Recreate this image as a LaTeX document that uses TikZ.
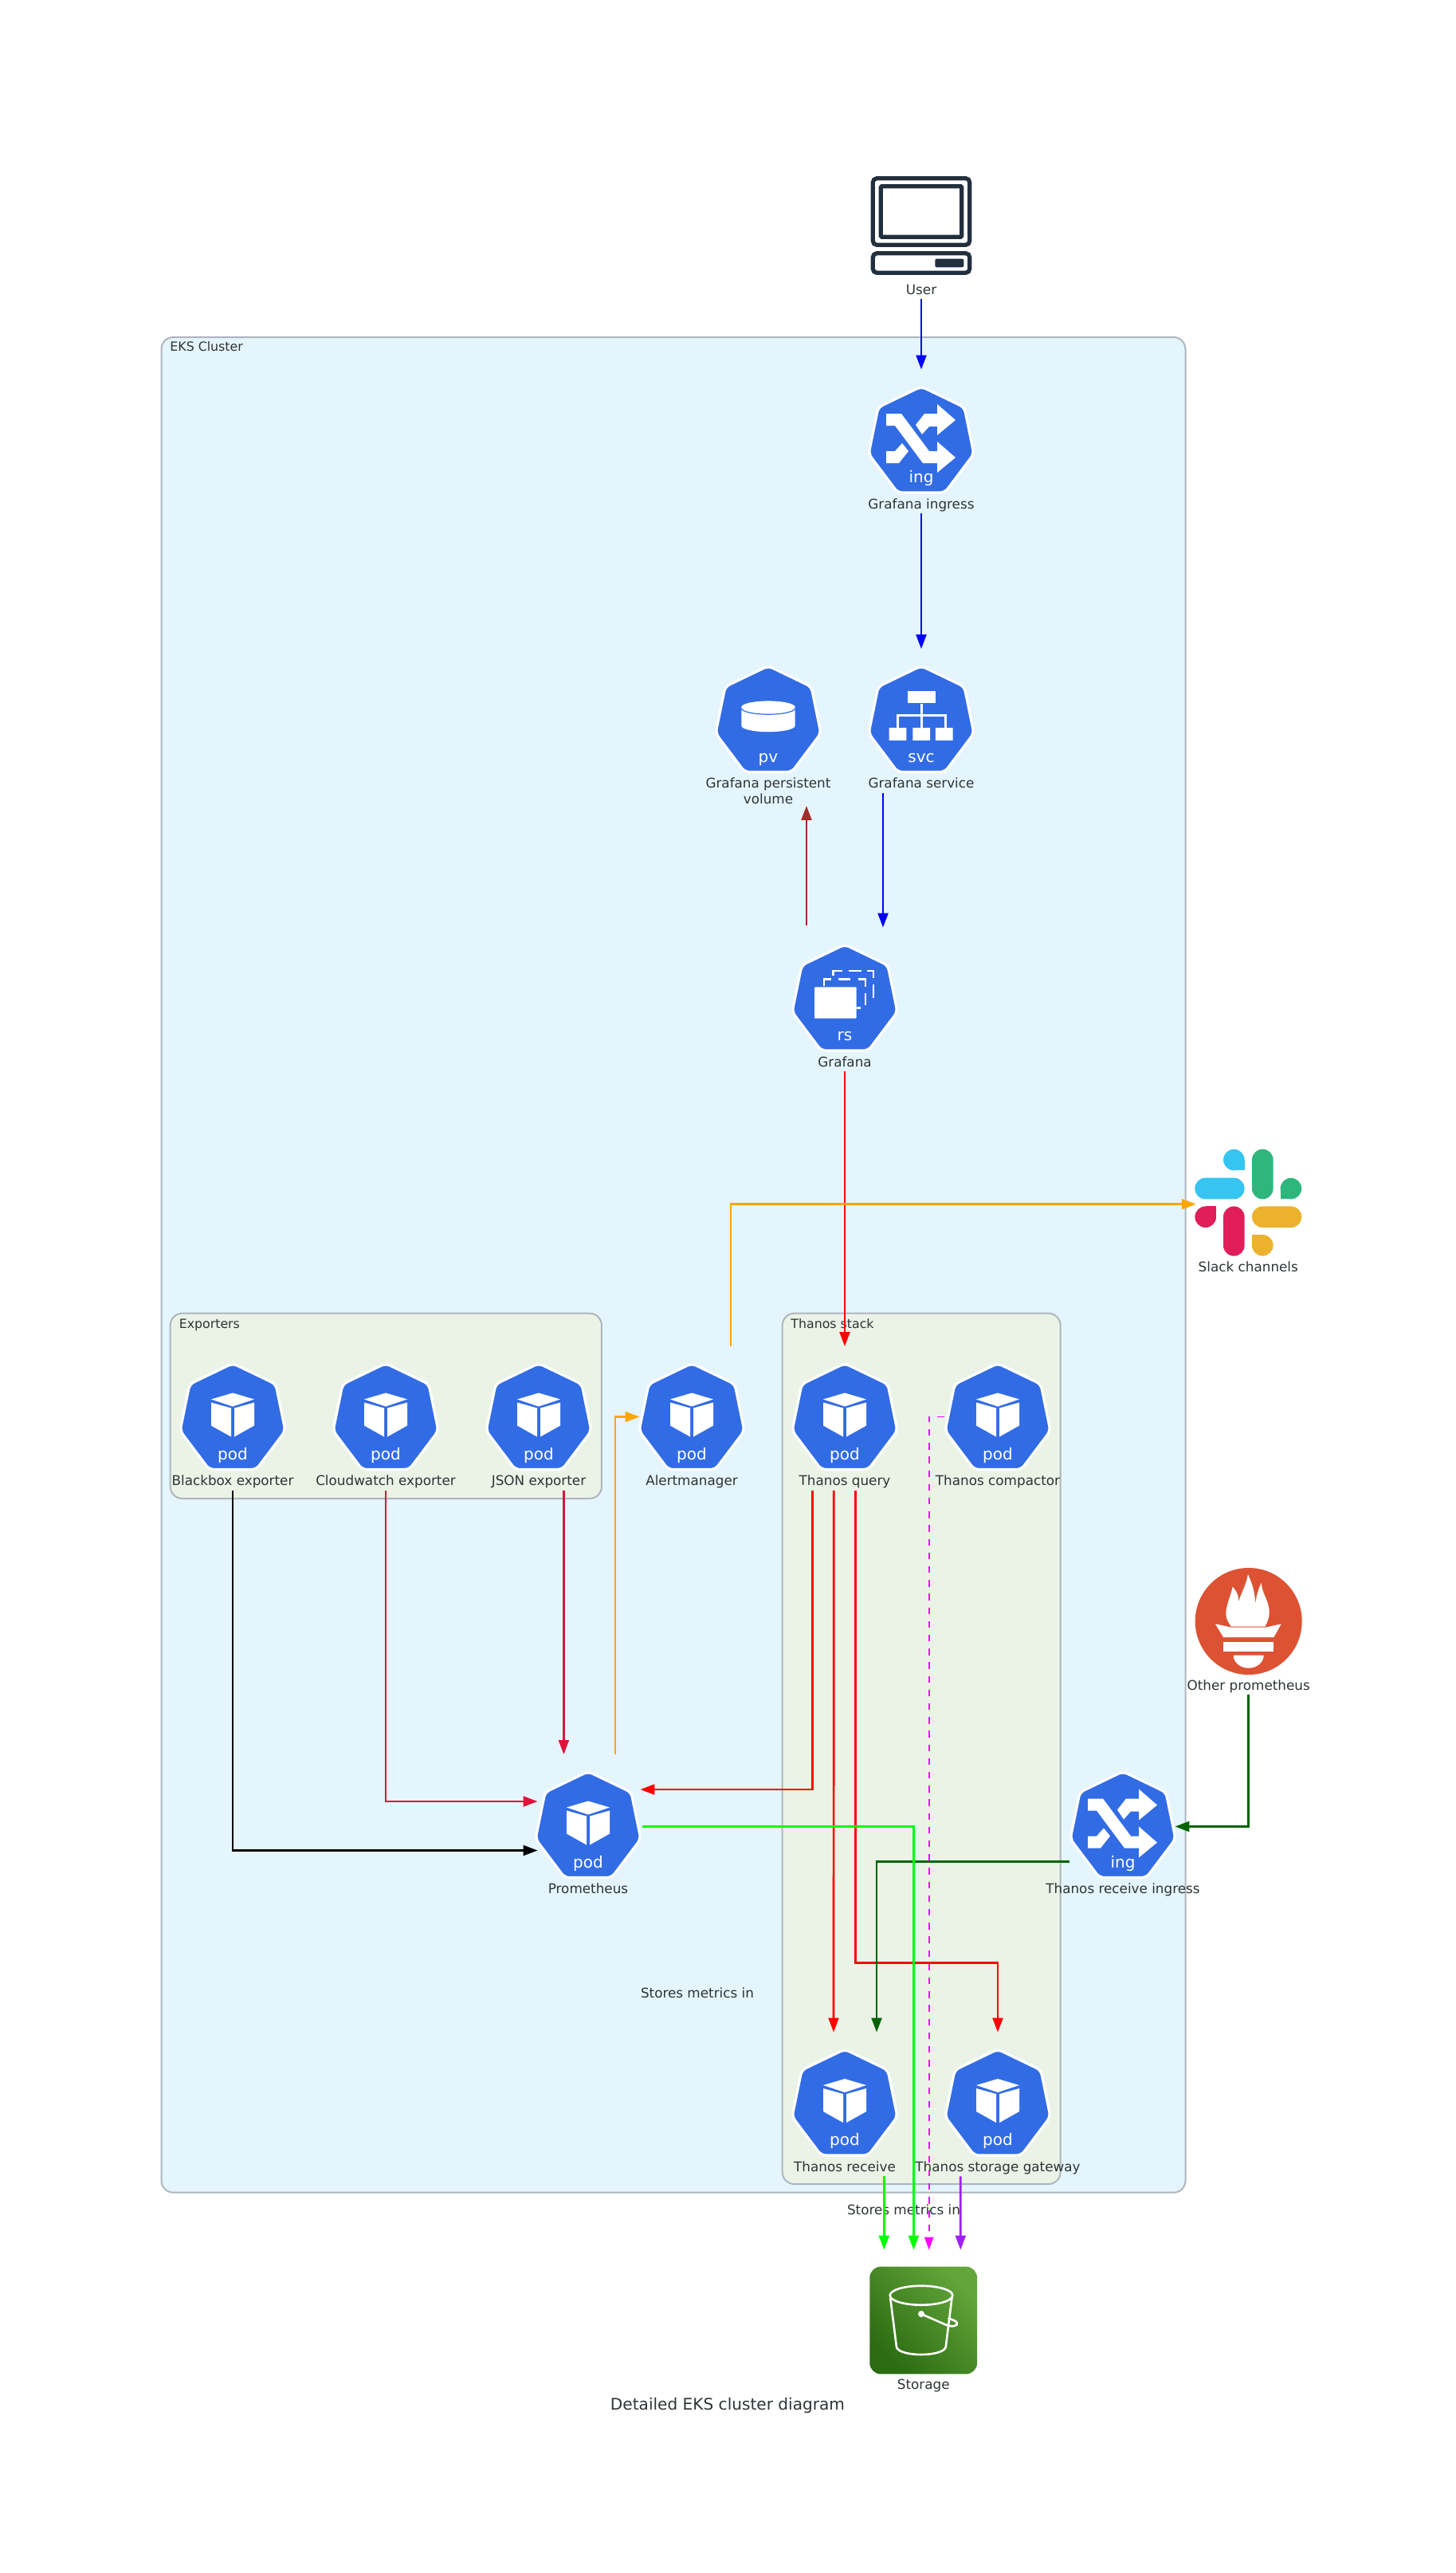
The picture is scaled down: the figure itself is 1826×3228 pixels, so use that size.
\documentclass[tikz,border=0pt]{standalone}
\usepackage{fontspec}
\setmainfont{DejaVu Sans}
\usetikzlibrary{calc,arrows.meta}
\definecolor{ekscol}{HTML}{E5F5FD}
\definecolor{stackcol}{HTML}{EBF3E7}
\definecolor{pencol}{HTML}{AEB6BE}
\definecolor{inkcol}{HTML}{2D3436}
\definecolor{kubeblue}{HTML}{326CE5}
\definecolor{usercol}{HTML}{232F3E}
\definecolor{promcol}{HTML}{DC5233}
\definecolor{slackblue}{HTML}{36C5F0}
\definecolor{slackgreen}{HTML}{2EB67D}
\definecolor{slackred}{HTML}{E01E5A}
\definecolor{slackyellow}{HTML}{ECB22E}
\definecolor{bluecol}{HTML}{0000FF}
\definecolor{redcol}{HTML}{FF0000}
\definecolor{crimsoncol}{HTML}{DC143C}
\definecolor{browncol}{HTML}{A52A2A}
\definecolor{orangecol}{HTML}{FFA500}
\definecolor{limecol}{HTML}{00FF00}
\definecolor{darkgreencol}{HTML}{006400}
\definecolor{purplecol}{HTML}{A020F0}
\definecolor{magentacol}{HTML}{FF00FF}
\definecolor{bucketlow}{HTML}{2B6B12}
\definecolor{buckethigh}{HTML}{62A539}
\newcommand{\placed}[5][0]{%
\node[iconbox] (#2) at (#3,{#4+2}) {};
\node[caption] (#2-label) at ($(#2.south)+(0,{#1-6})$) {#5};}
\newcommand{\hexbody}[1]{%
\filldraw[fill=kubeblue,draw=white,line width=1.6pt,rounded corners=3pt]
(0,-67)--(54,-41)--(66,17.5)--(29.5,66)--(-29.5,66)--(-66,17.5)--(-54,-41)--cycle;
\node[kubeword] (word) at (0,53.5) {#1};}
\tikzset{
flow/.style={-{Triangle[length=9pt,width=6.4pt]},line width=1.35pt},
dashflow/.style={-{Triangle[length=8pt,width=5.6pt]},line width=.8pt,dash pattern=on 4.2pt off 4.4pt,magentacol},
iconbox/.style={minimum width=65pt,minimum height=90pt,inner sep=0pt},
caption/.style={anchor=base,inner sep=0pt,align=center,text=inkcol,font=\fontsize{8.4}{9.75}\selectfont},
clusterbox/.style={draw=pencol,line width=1pt,rounded corners=7.5pt},
clustertext/.style={anchor=base west,inner sep=0pt,text=inkcol,font=\fontsize{7.9}{9.5}\selectfont},
kubeword/.style={anchor=base,inner sep=0pt,text=white,font=\fontsize{10}{12}\selectfont},
pics/kubepod/.style={code={\hexbody{pod}
\fill[white] (0,-30)--(27,-22)--(0,-13)--(-27,-22)--cycle;
\fill[white] (-27,-18)--(-2,-11)--(-2,25)--(-27,11)--cycle;
\fill[white] (27,-18)--(2,-11)--(2,25)--(27,11)--cycle;}},
pics/kubeing/.style={code={\hexbody{ing}
\fill[white] (-44,-33)--(-25,-33)--(10,14)--(20,14)--(20,2)--(43,22)--(20,41)--(20,29)--(2,29)--(-33,-18)--(-44,-18)--cycle;
\fill[white] (-7,-19)--(4,-33)--(20,-33)--(20,-45)--(43,-25)--(20,-6)--(20,-17)--(10,-17)--(1,-7)--cycle;
\fill[white] (-44,14)--(-33,14)--(-24,4)--(-16,14)--(-28,29)--(-44,29)--cycle;}},
pics/kubesvc/.style={code={\hexbody{svc}
\draw[white,line width=1.5pt] (0,-20)--(0,11) (-30,11)--(-30,-5)--(30,-5)--(30,11);
\fill[white] (-17,-36) rectangle (17.7,-20.5);
\fill[white] (-40.3,10.5) rectangle (-18.7,26.3) (-10.7,10.5) rectangle (11,26.3) (17.8,10.5) rectangle (39.5,26.3);}},
pics/kubepv/.style={code={\hexbody{pv}
\fill[white] (-33.7,-15.4)--(-33.7,8) arc[start angle=180,end angle=360,x radius=33.7,y radius=-7.7]--(33.7,-15.4)--cycle;
\fill[white] (0,-15.4) ellipse[x radius=33.7,y radius=7.7];
\draw[kubeblue,line width=.6pt] (-33.7,-14) arc[start angle=180,end angle=360,x radius=33.7,y radius=-7.7];}},
pics/kubers/.style={code={\hexbody{rs}
\fill[white,rounded corners=.5pt] (-38,-13.7) rectangle (14.7,25.6);
\draw[white,line width=1.4pt] (-26,-15.4)--(-26,-23.5)--(-16.7,-23.5) (-7.7,-23.5)--(7.3,-23.5) (16.7,-23.5)--(26,-23.5)--(26,-14.4) (26,-6)--(26,9) (14.7,12.6)--(20,12.6)
(-14.7,-27.7)--(-14.7,-34)--(-2.7,-34) (5,-34)--(20.7,-34) (28.3,-34)--(36,-34)--(36,-25) (36,-17)--(36,0.4);}},
pics/laptop/.style={code={
\draw[usercol,line width=2.6pt,rounded corners=2.5pt] (-60.7,-59.3) rectangle (60.7,24.3) (-60.7,34.7) rectangle (60.7,59.3);
\draw[usercol,line width=2.6pt,rounded corners=.6pt] (-50.7,-49.3) rectangle (50.7,14.3);
\fill[usercol,rounded corners=1pt] (17.3,41.7) rectangle (53.3,52.3);}},
pics/slackmark/.style={code={
\fill[slackblue,rounded corners=6.6pt] (-67,-31) rectangle (-4.7,-4.3);
\fill[slackblue] (-18,-53.6) circle (13.3);
\fill[slackblue] (-18,-53.6) rectangle (-4.7,-40.3);
\fill[slackgreen,rounded corners=6.6pt] (4.7,-67) rectangle (31.3,-4.3);
\fill[slackgreen] (53.6,-17.6) circle (13.3);
\fill[slackgreen] (53.6,-17.6) rectangle (40.3,-4.3);
\fill[slackred] (-53.6,18) circle (13.3);
\fill[slackred] (-53.6,18) rectangle (-40.3,4.7);
\fill[slackred,rounded corners=6.6pt] (-31.3,4.7) rectangle (-4.7,67);
\fill[slackyellow,rounded corners=6.6pt] (4.7,4.7) rectangle (67,31.3);
\fill[slackyellow] (18,53.6) circle (13.3);
\fill[slackyellow] (18,53.6) rectangle (4.7,40.3);}},
pics/promtorch/.style={code={
\fill[promcol] (0,0) circle (67);
\fill[white] (-21.7,6.7) .. controls (-28,-2) and (-30,-8) .. (-27.3,-18) .. controls (-25,-28) and (-22,-34) .. (-20,-43.3)
.. controls (-15,-38) and (-12,-32) .. (-12.7,-24.7) .. controls (-8,-38) and (-3,-46) .. (-0.7,-59)
.. controls (4,-48) and (9,-36) .. (8.3,-18) .. controls (9,-30) and (12,-40) .. (16,-48)
.. controls (17,-35) and (24,-28) .. (25.7,-15.7) .. controls (27,-6) and (24,0) .. (20.7,6.7)--cycle;
\fill[white] (-41.7,3.3)--(-21,7.7)--(21,7.7)--(41,3.3)--(31.7,20)--(-31.7,20)--cycle;
\fill[white] (-31.7,26) rectangle (31.7,37.7);
\fill[white] (-19,42.7) arc[start angle=180,end angle=360,x radius=19,y radius=-16]--cycle;}},
pics/bucket/.style={code={
\shade[rounded corners=7pt,bottom color=bucketlow,top color=buckethigh,shading angle=-45] (-67.4,-67.4) rectangle (67.4,67.4);
\draw[white,line width=1.3pt,line join=round] (-2.7,-31.3) ellipse[x radius=39.3,y radius=12];
\draw[white,line width=1.3pt,line join=round] (-41.5,-28)--(-33.7,33.7) .. controls (-30,46) and (24,46) .. (28,33.7)--(35.7,-28);
\fill[white] (-2.7,-8) circle (4);
\draw[white,line width=1.3pt] (-2.7,-8)--(28,5.5) .. controls (36,9) and (44,7) .. (42,3) .. controls (40,-0.5) and (34,-1) .. (31,-3);}},
}
\begin{document}
\begin{tikzpicture}[x=.5pt,y=-.5pt]
\useasboundingbox (0,0) rectangle (1826,3228);
% clusters
\draw[clusterbox,fill=ekscol] (202.5,423) rectangle (1487.5,2750.7);
\node[clustertext] (eks-label) at (213,440) {EKS Cluster};
\draw[clusterbox,fill=stackcol] (213.7,1647.7) rectangle (754.9,1880);
\node[clustertext] (exporters-label) at (224.4,1666) {Exporters};
\draw[clusterbox,fill=stackcol] (981.7,1647.7) rectangle (1330.7,2740);
\node[clustertext] (thanos-label) at (992,1666) {Thanos stack};
% outside the cluster
\placed{user}{1156}{283}{User}
\pic (user-icon) at (1156,283) {laptop};
\placed{slack}{1566.3}{1508.7}{Slack channels}
\pic (slack-icon) at (1566.3,1508.7) {slackmark};
\placed{otherprom}{1566.7}{2034}{Other prometheus}
\pic (otherprom-icon) at (1566.7,2034) {promtorch};
\placed{storage}{1158.7}{2911}{Storage}
\pic (storage-icon) at (1158.7,2911) {bucket};
% grafana
\placed{gring}{1156}{552}{Grafana ingress}
\pic (gring-icon) at (1156,552) {kubeing};
\placed{gsvc}{1156}{902.5}{Grafana service}
\pic (gsvc-icon) at (1156,902.5) {kubesvc};
\placed[19.5]{gpv}{964}{902.5}{Grafana persistent\\volume}
\pic (gpv-icon) at (964,902.5) {kubepv};
\placed{grafana}{1060}{1252}{Grafana}
\pic (grafana-icon) at (1060,1252) {kubers};
\placed{rcving}{1409}{2289.5}{Thanos receive ingress}
\pic (rcving-icon) at (1409,2289.5) {kubeing};
% pods
\foreach \n/\x/\y/\t in {blackbox/292/1777.5/Blackbox exporter,cloud/484/1777.5/Cloudwatch exporter,
json/676/1777.5/JSON exporter,alert/868/1777.5/Alertmanager,query/1060/1777.5/Thanos query,
compactor/1252/1777.5/Thanos compactor,prom/738/2289.5/Prometheus,receive/1060/2638/Thanos receive,
gateway/1252/2638/Thanos storage gateway}{
\placed{\n}{\x}{\y}{\t}
\pic (\n-icon) at (\x,\y) {kubepod};
}
\node[caption] (stores-one) at (875,2506) {Stores metrics in};
\node[caption] (stores-two) at (1134,2778) {Stores metrics in};
% connectors
\draw[flow,bluecol] (user)--(gring);
\draw[flow,bluecol] (gring)--(gsvc);
\draw[flow,bluecol] ($(gsvc.south)+(-48,0)$)--($(grafana.north)+(48,0)$);
\draw[flow,browncol] ($(grafana.north)+(-48,-3)$)--($(gpv.south)+(48,16)$);
\draw[flow,redcol] (grafana)--(query);
\draw[flow,orangecol] ($(prom.north)+(34,0)$)|-($(alert.west)+(0,-2)$);
\draw[flow,orangecol] ($(alert.north)+(49,0)$)|-(slack.west);
\draw[flow,black] (blackbox.south)|-($(prom.west)+(2,30)$);
\draw[flow,crimsoncol] (cloud.south)|-($(prom.west)+(2,-31.5)$);
\draw[flow,crimsoncol] ($(json.south)+(31.4,0)$)--($(prom.north)+(-30.6,0)$);
\draw[flow,redcol] ($(query.south)+(-40.7,0)$)|-($(prom.east)+(0,-46.5)$);
\draw[flow,redcol] ($(query.south)+(-13.7,0)$)--($(receive.north)+(-14,0)$);
\draw[flow,redcol] ($(query.south)+(13.3,0)$)|-($(gateway.north)+(0,-87)$)--(gateway.north);
\draw[flow,darkgreencol] (otherprom.south)|-(rcving.east);
\draw[flow,darkgreencol] ($(rcving.west)+(-2,44)$)-|($(receive.north)+(40,0)$);
\draw[flow,limecol] ($(prom.east)+(3,0)$)-|($(storage.north)+(-12.3,0)$);
\draw[flow,limecol] ($(receive.south)+(49.3,0)$)--($(storage.north)+(-49.4,0)$);
\draw[dashflow] ($(compactor.west)+(-2,-2)$)-|($(storage.north)+(7,0)$);
\draw[flow,purplecol] ($(gateway.south)+(-46.7,0)$)--($(storage.north)+(46.6,0)$);
\node[anchor=base,inner sep=0pt,text=inkcol,font=\fontsize{10.05}{12}\selectfont] (diagram-title) at (913,3023) {Detailed EKS cluster diagram};
\end{tikzpicture}
\end{document}
